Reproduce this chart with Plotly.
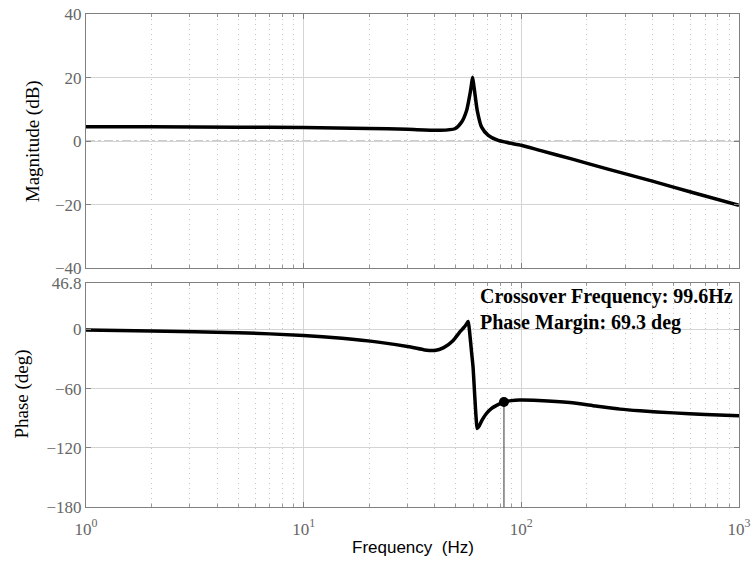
import plotly.graph_objects as go

# ---- data ----
mag_freq = [1, 2, 5, 10, 20, 30, 42.3, 49.5, 53.2, 56.1, 58.1, 59.0, 59.7, 60.4, 61.2, 62.7, 65.7, 70.5, 78.3, 88, 100, 121.7, 170, 250, 400, 600, 1000]
mag_db = [4.5, 4.5, 4.4, 4.3, 4.0, 3.7, 3.4, 3.9, 6.0, 9.7, 14.9, 17.8, 20.1, 17.8, 14.9, 9.7, 4.4, 1.8, 0.2, -0.6, -1.3, -2.9, -5.6, -8.8, -12.6, -16.0, -20.2]

ph_freq = [1, 2, 5, 10, 15, 22, 31, 36, 40, 44, 48.5, 52, 54.5, 56, 57, 58, 59, 60, 61, 62, 62.7, 64, 66, 69, 73, 77, 83.2, 90, 98, 120, 167, 220, 284, 351, 500, 700, 1000]
ph_deg = [-0.5, -1.5, -3.3, -6.1, -9.0, -12.9, -17.9, -20.8, -21.3, -18.5, -11.5, -3.0, 2.0, 5.5, 8.0, -5.0, -22.0, -38.0, -65.0, -90.0, -100.5, -98.0, -92.0, -85.5, -80.0, -77.0, -73.6, -72.2, -71.6, -72.0, -74.0, -77.6, -80.8, -82.5, -84.6, -86.2, -87.5]

marker_freq = 83.2
marker_phase = -73.6
phase_floor = -180

mag_ticks = [40, 20, 0, -20, -40]
ph_ticks = [46.8, 0, -60, -120, -180]
x_major = [1, 10, 100, 1000]
x_major_text = ["10<sup>0</sup>", "10<sup>1</sup>", "10<sup>2</sup>", "10<sup>3</sup>"]
x_minor = [m * d for d in (1, 10, 100) for m in range(2, 10)]

annot_lines = ["Crossover Frequency: 99.6Hz", "Phase Margin: 69.3 deg"]

# ---- figure ----
fig = go.Figure()
fig.add_trace(go.Scatter(x=mag_freq, y=mag_db, mode="lines",
                         line=dict(color="black", width=3.5, shape="spline", smoothing=0.6),
                         xaxis="x", yaxis="y", showlegend=False))
fig.add_trace(go.Scatter(x=ph_freq, y=ph_deg, mode="lines",
                         line=dict(color="black", width=3.5, shape="spline", smoothing=0.6),
                         xaxis="x2", yaxis="y2", showlegend=False))
fig.add_trace(go.Scatter(x=[marker_freq, marker_freq], y=[marker_phase, phase_floor], mode="lines",
                         line=dict(color="#555555", width=1.2), xaxis="x2", yaxis="y2", showlegend=False))
fig.add_trace(go.Scatter(x=[marker_freq], y=[marker_phase], mode="markers",
                         marker=dict(color="black", size=10), xaxis="x2", yaxis="y2", showlegend=False))

tick_font = dict(family="Liberation Serif", size=17, color="#666666")
axis_common = dict(showline=True, linecolor="#808080", linewidth=1.2, mirror="allticks",
                   ticks="inside", tickcolor="#808080", zeroline=False, automargin=False)

xcommon = dict(type="log", range=[0, 3], tickvals=x_major, ticklen=5, showgrid=True,
               gridcolor="#d4d4d4", gridwidth=1,
               minor=dict(tickvals=x_minor, ticks="inside", ticklen=3, tickcolor="#999999",
                          showgrid=True, gridcolor="#c4c4c4", griddash="1px,4px", gridwidth=1),
               **axis_common)

fig.update_layout(
    width=754, height=563,
    margin=dict(l=86, r=15, t=14, b=56),
    plot_bgcolor="white", paper_bgcolor="white",
    xaxis=dict(domain=[0, 1], anchor="y", showticklabels=False, **xcommon),
    yaxis=dict(domain=[0.4843, 1], range=[-40, 40], tickvals=mag_ticks, ticklen=5,
               showgrid=True, gridcolor="#d4d4d4", tickfont=tick_font, **axis_common),
    xaxis2=dict(domain=[0, 1], anchor="y2", ticktext=x_major_text, tickfont=tick_font,
                ticklabelstandoff=6, **xcommon),
    yaxis2=dict(domain=[0, 0.4539], range=[-180, 46.8], tickvals=ph_ticks, ticklen=5,
                showgrid=True, gridcolor="#d4d4d4", tickfont=tick_font, **axis_common),
)

fig.add_shape(type="line", xref="x domain", yref="y", x0=0, x1=1, y0=0, y1=0,
              line=dict(color="#9a9a9a", width=1.2, dash="dashdot"), layer="below")

fig.add_annotation(text="Magnitude (dB)", xref="paper", yref="y", x=-0.081, y=0, showarrow=False,
                   textangle=-90, xanchor="center", yanchor="middle",
                   font=dict(family="Liberation Serif", size=19, color="black"))
fig.add_annotation(text="Phase (deg)", xref="paper", yref="paper", x=-0.098, y=0.455 - 0.227, showarrow=False,
                   textangle=-90, xanchor="center", yanchor="middle",
                   font=dict(family="Liberation Serif", size=19, color="black"))
fig.add_annotation(text="Frequency  (Hz)", xref="paper", yref="paper", x=0.50, y=-0.083, showarrow=False,
                   xanchor="center", yanchor="middle",
                   font=dict(family="Liberation Sans", size=17, color="black"))
fig.add_annotation(text="<br>".join("<b>%s</b>" % s for s in annot_lines), xref="paper", yref="paper",
                   x=0.6, y=0.454, showarrow=False, xanchor="left", yanchor="top", align="left",
                   font=dict(family="Liberation Serif", size=20, color="black"))

fig.write_html("out.html")
